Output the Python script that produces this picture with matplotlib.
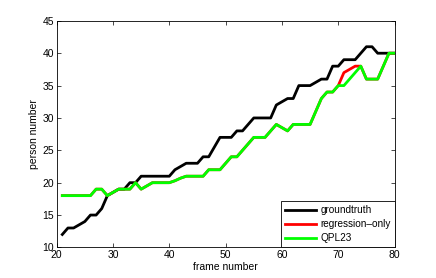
import numpy as np
import matplotlib
matplotlib.use('Agg')
import matplotlib.pyplot as plt

plt.rcParams['font.family'] = ['Liberation Sans', 'DejaVu Sans']

# numero de frame
frames = list(range(21, 81))

# valores
groundtruth = [12, 13, 13, 13.5, 14, 15, 15, 16, 18, 18.5,
               19, 19, 20, 20, 21, 21, 21, 21, 21, 21,
               22, 22.5, 23, 23, 23, 24, 24, 25.5, 27, 27,
               27, 28, 28, 29, 30, 30, 30, 30, 32, 32.5,
               33, 33, 35, 35, 35, 35.5, 36, 36, 38, 38,
               39, 39, 39, 40, 41, 41, 40, 40, 40, 40]

qpl23 = [18, 18, 18, 18, 18, 18, 19, 19, 18, 18.5,
         19, 19, 19, 20, 19, 19.5, 20, 20, 20, 20,
         20.3, 20.7, 21, 21, 21, 21, 22, 22, 22, 23,
         24, 24, 25, 26, 27, 27, 27, 28, 29, 28.5,
         28, 29, 29, 29, 29, 31, 33, 34, 34, 35,
         35, 36, 37, 38, 36, 36, 36, 38, 40, 40]

# regression-only coincide con QPL23 salvo en los frames 71-73
regression = list(qpl23)
regression[frames.index(71)] = 37
regression[frames.index(72)] = 37.5
regression[frames.index(73)] = 38

fig = plt.figure(figsize=(4.36, 2.78), dpi=100)
ax = fig.add_axes([0.13, 0.11, 0.775, 0.815])

ax.plot(frames, groundtruth, color='black', linewidth=2, label='groundtruth')
ax.plot(frames, regression, color='red', linewidth=2, label='regression\u2013only')
ax.plot(frames, qpl23, color='#00ff00', linewidth=2, label='QPL23')

ax.set_xlim(20, 80)
ax.set_ylim(10, 45)
ax.set_xticks(range(20, 81, 10))
ax.set_yticks(range(10, 46, 5))
ax.tick_params(direction='in', top=True, right=True, labelsize=7.5,
               length=3, width=0.5, pad=2)
for s in ax.spines.values():
    s.set_linewidth(0.6)

ax.set_xlabel('frame number', fontsize=7.5, labelpad=1)
ax.set_ylabel('person number', fontsize=7.5, labelpad=2)

leg = ax.legend(loc='lower right', fontsize=7.2, fancybox=False,
                edgecolor='black', framealpha=1, borderaxespad=0,
                handlelength=3.1, handletextpad=0.4, labelspacing=0.4,
                borderpad=0.4)
leg.get_frame().set_linewidth(0.6)

plt.savefig('out.png', dpi=100)
